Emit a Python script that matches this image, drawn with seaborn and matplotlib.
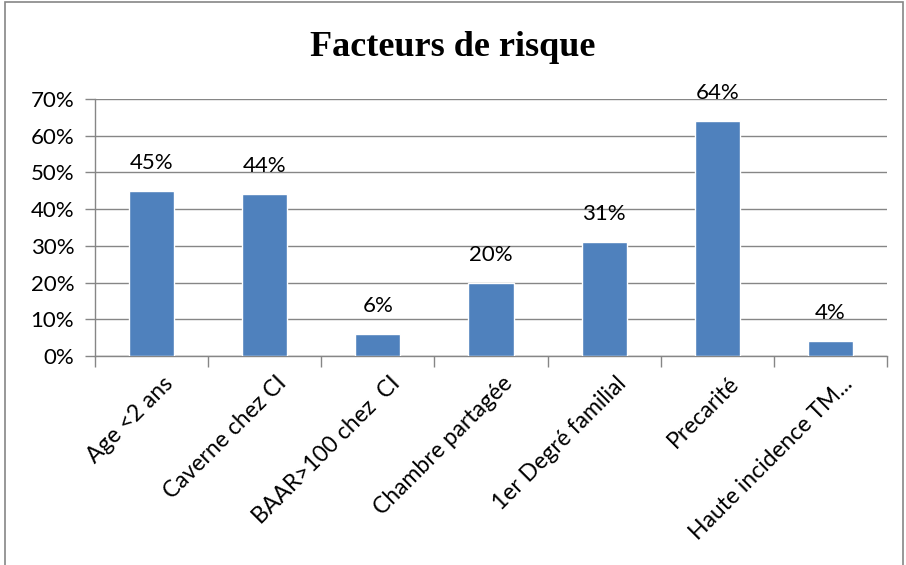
import matplotlib
matplotlib.use("Agg")
import matplotlib.pyplot as plt
import seaborn as sns
import pandas as pd
from matplotlib.patches import Rectangle
import matplotlib.transforms as mtransforms

categories = ["Age <2 ans", "Caverne chez CI", "BAAR>100 chez  CI", "Chambre partagée",
              "1er Degré familial", "Precarité", "Haute incidence TM..."]
values = [45, 44, 6, 20, 31, 64, 4]
labels = ["45%", "44%", "6%", "20%", "31%", "64%", "4%"]
yticks = [0, 10, 20, 30, 40, 50, 60, 70]
ytick_labels = ["0%", "10%", "20%", "30%", "40%", "50%", "60%", "70%"]

sns.set_theme(style="white")
plt.rcParams['font.family'] = ['Lato', 'DejaVu Sans']

df = pd.DataFrame({"cat": categories, "val": values})

fig = plt.figure(figsize=(9.06, 5.65), dpi=100)
ax = fig.add_axes([95/906, 1 - 356/565, (887-95)/906, (356-99)/565])

sns.barplot(data=df, x="cat", y="val", color="#4F81BD", saturation=1, width=0.4, ax=ax, zorder=3)

ax.set_ylim(0, 70)
ax.set_xlim(-0.5, len(categories) - 0.5)
ax.set_yticks(yticks)
ax.set_yticklabels(ytick_labels, fontsize=16, color="#000000")
ax.set_xticks(range(len(categories)))
ax.set_xticklabels(categories, rotation=45, ha="right", rotation_mode="anchor",
                   fontsize=16.5, color="#000000")
ax.set_xlabel("")
ax.set_ylabel("")

ax.yaxis.grid(True, color="#868686", linewidth=1.0, zorder=0)
ax.set_axisbelow(True)
for s in ["top", "right"]:
    ax.spines[s].set_visible(False)
for s in ["left", "bottom"]:
    ax.spines[s].set_color("#868686")
    ax.spines[s].set_linewidth(1.0)

ax.tick_params(axis="y", direction="out", length=7, color="#868686", width=1, left=True, pad=8)
ax.tick_params(axis="x", which="major", length=0, pad=12)
ax.set_xticks([i - 0.5 for i in range(len(categories) + 1)], minor=True)
ax.tick_params(axis="x", which="minor", direction="out", length=8, color="#868686", width=1, bottom=True)

offset = mtransforms.ScaledTranslation(8/72, 0, fig.dpi_scale_trans)
for lab in ax.get_xticklabels():
    lab.set_transform(lab.get_transform() + offset)

for i, (v, lab) in enumerate(zip(values, labels)):
    ax.annotate(lab, (i, v), xytext=(0, 13), textcoords="offset points",
                ha="center", va="bottom", fontsize=16, color="#000000")

fig.text(0.5, 1 - 48/565, "Facteurs de risque", ha="center", va="center", color="#000000",
         fontsize=26, fontweight="bold", family=["Liberation Serif", "DejaVu Serif"])

border = Rectangle((5/906, -0.1), (903-5)/906, 1.1 - 2/565, transform=fig.transFigure,
                   fill=False, edgecolor="#868686", linewidth=1.2)
fig.patches.append(border)

fig.savefig("out.png", dpi=100)
